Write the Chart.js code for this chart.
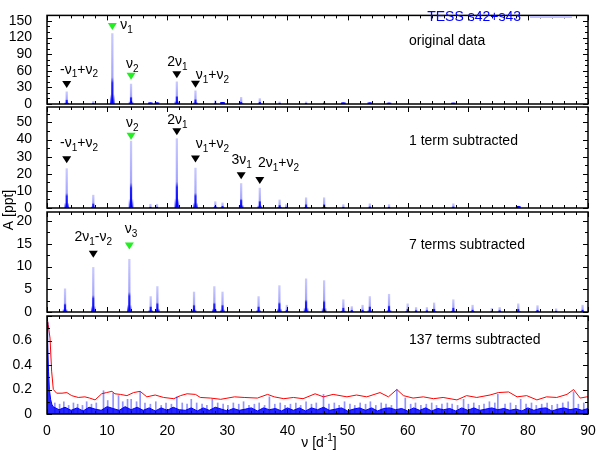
<!DOCTYPE html>
<html>
<head>
<meta charset="utf-8">
<script src="https://cdn.jsdelivr.net/npm/chart.js@4.4.0/dist/chart.umd.min.js"></script>
<style>
body { margin: 0; background: #fff; }
#wrap { position: relative; width: 598px; height: 452px; }
#wrap canvas { position: absolute; left: 0; top: 0; }
#key { position: absolute; right: 77px; top: 8px; height: 18px; line-height: 18px;
       font: 14px "Liberation Sans", Arial, Helvetica, sans-serif; color: #0000ff; white-space: nowrap; }
</style>
</head>
<body>
<div id="wrap">
<canvas id="p1" width="598" height="452"></canvas>
<canvas id="p2" width="598" height="452"></canvas>
<canvas id="p3" width="598" height="452"></canvas>
<canvas id="p4" width="598" height="452"></canvas>
<div id="key">TESS s42+s43</div>
</div>
<script>
// frequencies in d^-1, amplitudes in ppt
var xTicks = [0, 10, 20, 30, 40, 50, 60, 70, 80, 90];

// original data
var freq1 = [3.28, 7.7, 10.87, 13.98, 17.2, 18.3, 21.6, 24.7, 28.0, 29.2, 32.3, 35.4, 38.7, 43.1, 46.1, 49.3, 53.7, 56.9, 67.6];
var amp1 = [22, 5, 127, 36, 2, 2, 40, 24, 6, 3, 12, 10, 4, 4, 4, 2, 2, 1.5, 1.5];
var yTicks1 = [0, 30, 60, 90, 120, 150];

// 1 term subtracted
var freq2 = [3.28, 7.7, 13.98, 17.2, 18.3, 21.6, 24.7, 28.0, 29.2, 32.3, 35.4, 38.7, 39.8, 43.1, 46.1, 49.3, 53.7, 56.9, 67.6, 78.4];
var amp2 = [23, 7.5, 39, 2.2, 2.2, 40.5, 23.3, 3.7, 3, 14.3, 11.6, 4.7, 2, 6, 6, 2, 2.5, 2, 2.5, 1];
var yTicks2 = [0, 10, 20, 30, 40, 50];

// 7 terms subtracted
var freq3 = [3.0, 7.7, 13.7, 17.25, 18.36, 24.46, 27.84, 29.2, 35.2, 38.66, 39.9, 43.1, 46.1, 49.3, 50.7, 52.5, 53.7, 56.9, 60.0, 61.4, 63.2, 64.4, 67.6, 70.8, 74.0, 75.3, 78.4, 81.6, 84.7, 89.1];
var amp3 = [5.1, 9.8, 11.6, 3.4, 5.6, 4.4, 5.6, 4.4, 3.4, 5.8, 1.5, 7.3, 6.9, 2.7, 1.2, 1.5, 3.4, 3.9, 1.8, 1, 1, 2, 2.7, 1.5, 0.8, 1, 1.8, 1.4, 0.7, 1.5];
var yTicks3 = [0, 5, 10, 15, 20];

// 137 terms subtracted: low-frequency rise, residual noise band, noise spikes, red noise level
var lowFreq4 = [0, 0.1, 0.25, 0.4, 0.6, 0.8];
var lowAmp4 = [0.75, 0.6, 0.35, 0.2, 0.12, 0.08];
var band4 = [
  0.06, 0.035, 0.055, 0.03, 0.05, 0.025, 0.055, 0.04, 0.03, 0.06,
  0.045, 0.03, 0.06, 0.035, 0.055, 0.03, 0.05, 0.025, 0.05, 0.03,
  0.055, 0.035, 0.03, 0.05, 0.025, 0.05, 0.03, 0.055, 0.04, 0.025,
  0.045, 0.03, 0.04, 0.05, 0.025, 0.05, 0.035, 0.045, 0.025, 0.05,
  0.03, 0.05, 0.025, 0.05, 0.035, 0.055, 0.03, 0.04, 0.05, 0.025,
  0.04, 0.05, 0.03, 0.05, 0.025, 0.045, 0.05, 0.035, 0.045, 0.025,
  0.05, 0.03, 0.05, 0.025, 0.045, 0.035, 0.045, 0.025, 0.05, 0.03,
  0.05, 0.03, 0.04, 0.05, 0.035, 0.045, 0.03, 0.04, 0.025, 0.05,
  0.03, 0.045, 0.05, 0.025, 0.04, 0.05, 0.035, 0.045, 0.03, 0.045
];
var spikeFreq4 = [1.3, 2.1, 2.8, 3.6, 4.4, 5.1, 5.9, 6.6, 7.4, 8.2, 9.4, 10.1, 11.0, 11.9, 12.6, 13.4, 14.0, 14.9, 15.5, 16.3,
  17.2, 18.1, 19.0, 19.8, 20.7, 21.6, 22.5, 23.3, 24.0, 24.9, 25.8, 26.6, 27.5, 28.4, 29.3, 30.1, 31.0, 31.9, 32.7, 33.6,
  34.5, 35.3, 36.2, 37.0, 37.9, 38.8, 39.6, 40.5, 41.4, 42.2, 43.1, 44.0, 44.8, 46.0, 46.9, 47.8, 48.6, 49.5, 50.4, 51.2,
  52.1, 53.0, 53.8, 54.7, 55.6, 56.4, 57.3, 58.2, 59.6, 60.5, 61.3, 62.2, 63.1, 64.0, 64.8, 65.7, 66.6, 67.4, 68.3, 69.3,
  70.1, 71.0, 71.9, 72.7, 73.6, 74.5, 75.0, 76.2, 77.1, 78.0, 78.8, 79.7, 80.6, 81.4, 82.3, 83.2, 84.0, 84.9, 85.8, 86.7,
  87.6, 88.4, 89.3];
var spikeAmp4 = [0.09, 0.08, 0.1, 0.07, 0.09, 0.08, 0.07, 0.1, 0.08, 0.09, 0.19, 0.11, 0.17, 0.15, 0.1, 0.12, 0.12, 0.1, 0.18, 0.09,
  0.08, 0.1, 0.07, 0.09, 0.08, 0.14, 0.09, 0.08, 0.12, 0.09, 0.08, 0.07, 0.12, 0.09, 0.08, 0.07, 0.09, 0.08, 0.1, 0.07,
  0.08, 0.09, 0.07, 0.14, 0.08, 0.09, 0.07, 0.08, 0.09, 0.07, 0.1, 0.08, 0.09, 0.16, 0.08, 0.09, 0.07, 0.1, 0.08, 0.07,
  0.09, 0.08, 0.1, 0.07, 0.09, 0.08, 0.07, 0.2, 0.13, 0.08, 0.09, 0.07, 0.08, 0.09, 0.07, 0.08, 0.09, 0.08, 0.07, 0.12,
  0.08, 0.09, 0.07, 0.08, 0.1, 0.09, 0.16, 0.08, 0.09, 0.07, 0.12, 0.08, 0.09, 0.07, 0.08, 0.09, 0.07, 0.08, 0.09, 0.1,
  0.18, 0.08, 0.09];
var redFreq4 = [0, 0.2, 0.5, 0.77, 1.05, 1.6, 2.5, 3.3, 4.1, 5.2, 6.3, 7.1, 8.0, 9.1, 9.9, 10.8, 11.3, 12.2, 13.3, 14.4,
  15.5, 16.6, 18.0, 19.4, 21.1, 22.2, 23.3, 24.7, 25.5, 27.2, 28.9, 31.2, 32.8, 35.0, 36.7, 37.8, 39.4, 41.0, 42.6, 44.6,
  46.0, 47.6, 49.9, 51.5, 53.2, 55.4, 56.8, 58.2, 59.3, 60.9, 62.6, 64.3, 65.9, 68.2, 69.8, 71.5, 73.7, 75.1, 76.8, 78.2,
  79.8, 81.5, 83.1, 84.8, 86.5, 87.6, 88.7, 89.8, 90];
var redAmp4 = [0.79, 0.73, 0.62, 0.35, 0.2, 0.17, 0.17, 0.175, 0.15, 0.135, 0.14, 0.13, 0.115, 0.165, 0.175, 0.185, 0.165, 0.16, 0.15, 0.175,
  0.185, 0.14, 0.155, 0.135, 0.125, 0.15, 0.165, 0.16, 0.135, 0.13, 0.12, 0.14, 0.135, 0.13, 0.16, 0.14, 0.125, 0.135, 0.125, 0.165,
  0.14, 0.16, 0.14, 0.155, 0.14, 0.175, 0.14, 0.2, 0.15, 0.13, 0.14, 0.125, 0.135, 0.115, 0.15, 0.135, 0.155, 0.175, 0.18, 0.14,
  0.15, 0.115, 0.14, 0.135, 0.16, 0.2, 0.13, 0.14, 0.14];
var yTicks4 = [0, 0.2, 0.4, 0.6];

var BLACK = '#000', GREEN = '#22ee22';
var marks1 = [
  {f: 3.28, a: 35, label: '-ν_1+ν_2', lf: 2.16, la: 62, align: 'left', color: BLACK},
  {f: 10.87, a: 140, label: 'ν_1', lf: 12.2, la: 142, align: 'left', color: GREEN},
  {f: 13.98, a: 50, label: 'ν_2', lf: 14.2, la: 72, align: 'center', color: GREEN},
  {f: 21.6, a: 52.6, label: '2ν_1', lf: 21.7, la: 75, align: 'center', color: BLACK},
  {f: 24.7, a: 35.6, label: 'ν_1+ν_2', lf: 24.74, la: 52, align: 'left', color: BLACK}
];
var marks2 = [
  {f: 3.28, a: 28.2, label: '-ν_1+ν_2', lf: 2.16, la: 37.8, align: 'left', color: BLACK},
  {f: 13.98, a: 41.9, label: 'ν_2', lf: 14.2, la: 49.6, align: 'center', color: GREEN},
  {f: 21.6, a: 44.5, label: '2ν_1', lf: 21.7, la: 51.2, align: 'center', color: BLACK},
  {f: 24.7, a: 28.6, label: 'ν_1+ν_2', lf: 24.74, la: 37.2, align: 'left', color: BLACK},
  {f: 32.3, a: 18.8, label: '3ν_1', lf: 32.4, la: 27.7, align: 'center', color: BLACK},
  {f: 35.4, a: 16, label: '2ν_1+ν_2', lf: 35.1, la: 26, align: 'left', color: BLACK}
];
var marks3 = [
  {f: 7.7, a: 12.7, label: '2ν_1-ν_2', lf: 7.7, la: 16.4, align: 'center', color: BLACK},
  {f: 13.7, a: 14.5, label: 'ν_3', lf: 14.0, la: 18.2, align: 'center', color: GREEN}
];

var FONT = '"Liberation Sans", Arial, Helvetica, sans-serif';

function pairs(xs, ys) {
    return xs.map(function (x, i) { return {x: x, y: ys[i]}; });
}

// text with _x / _{..} subscripts and ^x / ^{..} superscripts
function richText(ctx, str, x, y, align) {
    var re = /([_^])\{([^}]*)\}|([_^])(.)|(.)/g, m, parts = [], w = 0;
    while ((m = re.exec(str))) {
        if (m[1]) parts.push({t: m[2], k: m[1]});
        else if (m[3]) parts.push({t: m[4], k: m[3]});
        else parts.push({t: m[5], k: ''});
    }
    parts.forEach(function (p) {
        ctx.font = (p.k ? '10px ' : '14px ') + FONT;
        p.w = ctx.measureText(p.t).width;
        w += p.w;
    });
    var cx = align === 'center' ? x - w / 2 : (align === 'right' ? x - w : x);
    ctx.textAlign = 'left';
    ctx.textBaseline = 'middle';
    parts.forEach(function (p) {
        ctx.font = (p.k ? '10px ' : '14px ') + FONT;
        var dy = p.k === '_' ? 5 : (p.k === '^' ? -5 : 0);
        ctx.fillText(p.t, cx, y + dy);
        cx += p.w;
    });
}

// vertical gradient along each bar, stops given as fractions of bar height
function barGradient(stops) {
    return function (c) {
        var chart = c.chart;
        if (!chart.chartArea || c.type !== 'data' || !chart.scales.y) return 'rgba(0,0,255,0.6)';
        var ys = chart.scales.y;
        var top = ys.getPixelForValue(c.parsed.y), base = ys.getPixelForValue(0);
        if (!(base - top > 2)) return stops[0][1];
        var g = chart.ctx.createLinearGradient(0, base, 0, top);
        stops.forEach(function (s) { g.addColorStop(s[0], s[1]); });
        return g;
    };
}
var spikeFill = barGradient([[0, 'rgba(0,0,255,1)'], [0.3, 'rgba(0,0,255,0.85)'], [0.38, 'rgba(50,50,255,0.45)'], [1, 'rgba(80,80,255,0.3)']]);
var baseFill = barGradient([[0, 'rgba(0,0,255,0.9)'], [0.06, 'rgba(0,0,255,0.55)'], [0.14, 'rgba(0,0,255,0)'], [1, 'rgba(0,0,255,0)']]);

var decor = {
    id: 'decor',
    afterDatasetsDraw: function (chart, args, o) {
        var ctx = chart.ctx, a = chart.chartArea, xs = chart.scales.x, ys = chart.scales.y;
        ctx.save();
        ctx.strokeStyle = '#000';
        ctx.lineWidth = 1;
        ctx.beginPath();
        // gnuplot style inward ticks, mirrored
        for (var v = 0; v <= 90; v += 2) {
            var px = Math.round(xs.getPixelForValue(v)) + 0.5, len = v % 10 === 0 ? 5 : 3;
            ctx.moveTo(px, a.bottom); ctx.lineTo(px, a.bottom - len);
            ctx.moveTo(px, a.top); ctx.lineTo(px, a.top + len);
        }
        for (var i = 0; i * o.minor <= ys.max + 1e-9; i++) {
            var py = Math.round(ys.getPixelForValue(i * o.minor)) + 0.5, l2 = i % o.every === 0 ? 5 : 3;
            ctx.moveTo(a.left, py); ctx.lineTo(a.left + l2, py);
            ctx.moveTo(a.right, py); ctx.lineTo(a.right - l2, py);
        }
        ctx.stroke();
        ctx.lineWidth = 1.5;
        ctx.strokeRect(a.left, a.top, a.right - a.left, a.bottom - a.top);

        (o.marks || []).forEach(function (m) {
            var mx = xs.getPixelForValue(m.f), my = ys.getPixelForValue(m.a);
            ctx.fillStyle = m.color;
            ctx.beginPath();
            ctx.moveTo(mx - 4.5, my - 3.5);
            ctx.lineTo(mx + 4.5, my - 3.5);
            ctx.lineTo(mx, my + 3.5);
            ctx.closePath();
            ctx.fill();
            ctx.fillStyle = '#000';
            richText(ctx, m.label, xs.getPixelForValue(m.lf), ys.getPixelForValue(m.la), m.align);
        });

        ctx.fillStyle = '#000';
        ctx.font = '14px ' + FONT;
        ctx.textAlign = 'left';
        ctx.textBaseline = 'middle';
        ctx.fillText(o.caption, 409, o.captionY);

        if (o.legend) {
            // legend sample line; the label itself is the #key element
            ctx.strokeStyle = '#c0c0ff';
            ctx.lineWidth = 2;
            ctx.beginPath();
            ctx.moveTo(530, 17); ctx.lineTo(572, 17);
            ctx.stroke();
        }
        if (o.titles) {
            ctx.fillStyle = '#000';
            richText(ctx, 'ν [d^{-1}]', 319, 443, 'center');
            ctx.translate(9, 210);
            ctx.rotate(-Math.PI / 2);
            richText(ctx, 'A [ppt]', 0, 0, 'center');
        }
        ctx.restore();
    }
};

function makePanel(id, p) {
    return new Chart(document.getElementById(id), {
        type: 'bar',
        data: { datasets: p.datasets },
        options: {
            responsive: false,
            animation: false,
            devicePixelRatio: 1,
            layout: { padding: { left: 0, right: 10, top: p.top, bottom: p.bottom } },
            plugins: {
                legend: { display: false },
                tooltip: { enabled: false },
                decor: p.decor
            },
            scales: {
                x: {
                    type: 'linear', min: 0, max: 90, offset: false,
                    display: !!p.showX,
                    grid: { display: false },
                    border: { display: false },
                    afterBuildTicks: function (s) { s.ticks = xTicks.map(function (v) { return {value: v}; }); },
                    afterFit: function (s) { s.height = p.showX ? 30 : 0; },
                    ticks: { color: '#000', padding: 1, autoSkip: false, maxRotation: 0, font: { family: FONT, size: 14 } }
                },
                y: {
                    min: 0, max: p.max,
                    grid: { display: false },
                    border: { display: false },
                    afterBuildTicks: function (s) { s.ticks = p.yTicks.map(function (v) { return {value: v}; }); },
                    afterFit: function (s) { s.width = 47; },
                    ticks: {
                        color: '#000', padding: 7, autoSkip: false, font: { family: FONT, size: 14 },
                        callback: function (v) { return String(v); }
                    }
                }
            }
        },
        plugins: [decor]
    });
}

// each peak: a thin spike plus a wider dark foot, both from the same values
function peakSets(xs, ys) {
    var pts = pairs(xs, ys);
    return [
        { data: pts, backgroundColor: baseFill, borderWidth: 0, barThickness: 4, grouped: false },
        { data: pts, backgroundColor: spikeFill, borderWidth: 0, barThickness: 1.6, grouped: false }
    ];
}

makePanel('p1', {
    top: 3, bottom: 452 - 104, max: 160, yTicks: yTicks1,
    datasets: peakSets(freq1, amp1),
    decor: { minor: 10, every: 3, marks: marks1, caption: 'original data', captionY: 41, legend: true }
});
makePanel('p2', {
    top: 107, bottom: 452 - 208, max: 59, yTicks: yTicks2,
    datasets: peakSets(freq2, amp2),
    decor: { minor: 5, every: 2, marks: marks2, caption: '1 term subtracted', captionY: 141 }
});
makePanel('p3', {
    top: 212, bottom: 452 - 312, max: 22, yTicks: yTicks3,
    datasets: peakSets(freq3, amp3),
    decor: { minor: 2.5, every: 2, marks: marks3, caption: '7 terms subtracted', captionY: 245 }
});
makePanel('p4', {
    top: 316, bottom: 452 - 414 - 30, max: 0.8, yTicks: yTicks4, showX: true,
    datasets: [
        {
            type: 'line',
            data: pairs(lowFreq4, lowAmp4).concat(band4.map(function (v, i) { return {x: i + 1, y: v}; })),
            borderColor: '#0000ff', borderWidth: 1, backgroundColor: 'rgba(0,0,255,0.85)',
            fill: 'origin', pointRadius: 0, tension: 0
        },
        {
            data: pairs(spikeFreq4, spikeAmp4),
            backgroundColor: 'rgba(40,40,255,0.5)', borderWidth: 0, barThickness: 1, grouped: false
        },
        {
            type: 'line',
            data: pairs(redFreq4, redAmp4),
            borderColor: '#ff0000', borderWidth: 1, fill: false, pointRadius: 0, tension: 0
        }
    ],
    decor: { minor: 0.1, every: 2, marks: [], caption: '137 terms subtracted', captionY: 340, titles: true }
});
</script>
</body>
</html>
